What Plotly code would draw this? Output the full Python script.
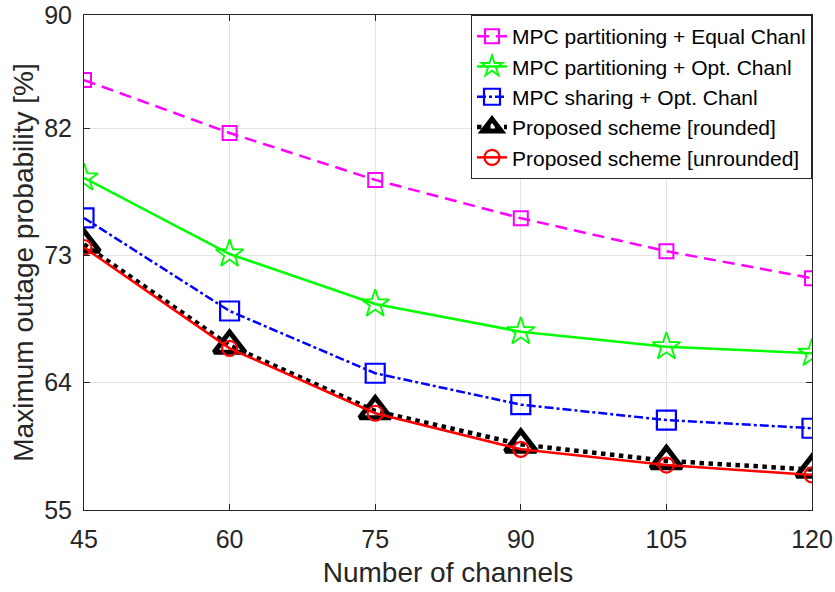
import plotly.graph_objects as go

channels = [45, 60, 75, 90, 105, 120]
mpc_part_equal = [85.4, 81.66, 78.34, 75.63, 73.3, 71.39]
mpc_part_opt = [78.48, 73.1, 69.57, 67.61, 66.55, 66.08]
mpc_share_opt = [75.65, 69.07, 64.67, 62.45, 61.36, 60.78]
proposed_rounded = [73.78, 66.63, 62.0, 59.64, 58.47, 57.86]
proposed_unrounded = [73.56, 66.43, 61.84, 59.29, 58.18, 57.48]

y_ticks = [55, 64, 73, 82, 90]
x_ticks = [45, 60, 75, 90, 105, 120]

AX = "#262626"
FONT = "Liberation Sans, Arial, Helvetica, sans-serif"

fig = go.Figure()

series = [
    ("MPC partitioning + Equal Chanl", mpc_part_equal, "#ff00ff", "12px,7px", 2.5,
     "square-open", 14, 2),
    ("MPC partitioning + Opt. Chanl", mpc_part_opt, "#00ff00", "solid", 2.5,
     "star-open", 21, 1.8),
    ("MPC sharing + Opt. Chanl", mpc_share_opt, "#0000ff", "dashdot", 2.5,
     "square-open", 19, 2.2),
    ("Proposed scheme [rounded]", proposed_rounded, "#000000", "dot", 4.5,
     "triangle-up-open", 27, 5),
    ("Proposed scheme [unrounded]", proposed_unrounded, "#ff0000", "solid", 2.5,
     "circle-open", 15, 2.2),
]

for i, (name, vals, color, dash, lw, sym, ms, mlw) in enumerate(series):
    fig.add_trace(go.Scatter(
        x=channels, y=vals, name=name, mode="lines+markers",
        legendgroup=f"g{i}",
        line=dict(color=color, width=lw, dash=dash),
        marker=dict(symbol=sym, size=ms, color=color,
                    line=dict(color=color, width=mlw)),
    ))

fig.update_layout(
    width=835, height=592,
    margin=dict(l=84, r=23, t=15, b=82),
    paper_bgcolor="white", plot_bgcolor="white",
    font=dict(family=FONT, color=AX),
    showlegend=True,
    legend=dict(
        x=1, y=1, xanchor="right", yanchor="top",
        bgcolor="white", bordercolor=AX, borderwidth=1,
        font=dict(size=21, color="#000000", family=FONT),
        traceorder="grouped", tracegroupgap=0,
        itemwidth=30,
    ),
    xaxis=dict(
        range=[45, 120], tickvals=x_ticks, automargin=False,
        showgrid=True, gridcolor="#e3e3e3", gridwidth=1,
        showline=True, linecolor=AX, linewidth=1, mirror="ticks",
        ticks="inside", ticklen=6, tickcolor=AX,
        tickfont=dict(size=25, color=AX), ticklabelstandoff=7,
        title=dict(text="Number of channels", font=dict(size=28, color=AX),
                   standoff=10),
        zeroline=False,
    ),
    yaxis=dict(
        range=[55, 90], tickvals=y_ticks, automargin=False,
        showgrid=True, gridcolor="#e3e3e3", gridwidth=1,
        showline=True, linecolor=AX, linewidth=1, mirror="ticks",
        ticks="inside", ticklen=6, tickcolor=AX,
        tickfont=dict(size=25, color=AX), ticklabelstandoff=6,
        title=dict(text="Maximum outage probability [%]",
                   font=dict(size=28, color=AX), standoff=2),
        zeroline=False,
    ),
)

fig.write_html("out.html")
